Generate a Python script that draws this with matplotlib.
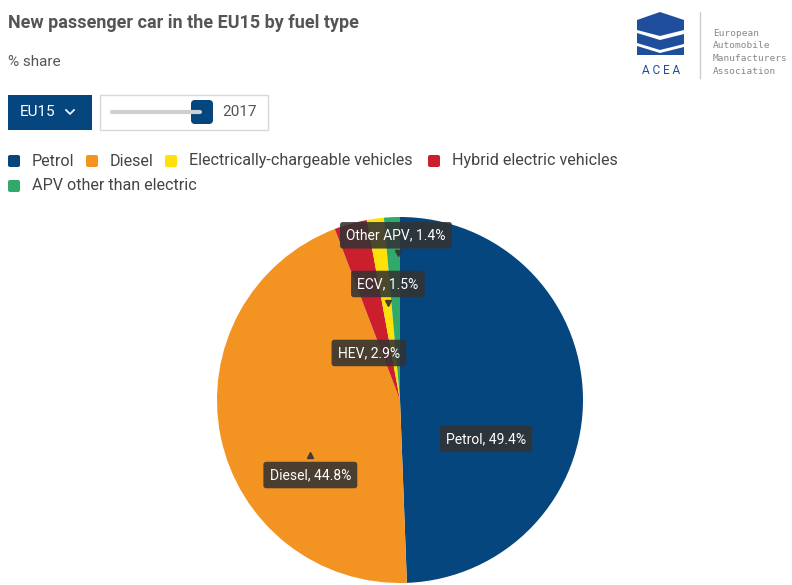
import matplotlib.pyplot as plt
from matplotlib.patches import Rectangle, FancyBboxPatch, Polygon

plt.rcParams['font.family'] = ['Roboto', 'DejaVu Sans']

# data
fuel_types = ["Petrol", "Diesel", "Hybrid electric vehicles", "Electrically-chargeable vehicles", "APV other than electric"]
short_names = ["Petrol", "Diesel", "HEV", "ECV", "Other APV"]
shares = [49.4, 44.8, 2.9, 1.5, 1.4]
colors = ["#05467f", "#f39322", "#cc1f2e", "#ffe10a", "#30a96b"]
legend_order = [0, 1, 3, 2, 4]
year = "2017"
region = "EU15"

W, H = 792, 585
fig = plt.figure(figsize=(W / 100, H / 100), dpi=100)
fig.patch.set_facecolor("white")

# overlay axes in pixel coordinates (y going down)
ui = fig.add_axes([0, 0, 1, 1])
ui.set_xlim(0, W)
ui.set_ylim(H, 0)
ui.axis("off")

ui.text(8, 23, "New passenger car in the EU15 by fuel type", fontsize=13, fontweight="bold",
        color="#555555", va="center")
ui.text(8, 62, "% share", fontsize=11, color="#555555", va="center")

# region dropdown
ui.add_patch(Rectangle((8, 95), 84, 35, facecolor="#05467f", edgecolor="none"))
ui.text(20, 112.5, region, color="white", fontsize=11, va="center")
ui.plot([66, 70, 74], [110, 114, 110], color="white", lw=1.2)

# year slider
ui.add_patch(Rectangle((100, 95), 168, 35, facecolor="white", edgecolor="#d8d8d8", lw=1))
ui.plot([112, 200], [112, 112], color="#cfcfcf", lw=3, solid_capstyle="round")
ui.add_patch(FancyBboxPatch((191, 100), 22, 24, boxstyle="round,pad=0,rounding_size=4",
                            facecolor="#05467f", edgecolor="none"))
ui.text(222, 112.5, year, color="#555555", fontsize=11, va="center")

# legend
legend_pos = [(8, 161), (86, 161), (165, 161), (428, 161), (8, 186)]
for (lx, ly), i in zip(legend_pos, legend_order):
    ui.add_patch(FancyBboxPatch((lx, ly - 6), 12, 12, boxstyle="round,pad=0,rounding_size=2",
                                facecolor=colors[i], edgecolor="none"))
    ui.text(lx + 24, ly, fuel_types[i], fontsize=11.6, color="#444444", va="center")

# ACEA logo
logo = "#1f4f9c"
ui.add_patch(Polygon([(637, 20), (660, 12), (684, 20), (684, 30), (660, 36), (637, 30)],
                     closed=True, facecolor=logo, edgecolor="none"))
ui.add_patch(Polygon([(637, 33), (660, 40), (684, 34), (684, 44), (660, 50), (637, 43)],
                     closed=True, facecolor=logo, edgecolor="none"))
ui.add_patch(Polygon([(637, 46), (660, 53), (684, 47), (684, 55), (637, 55)],
                     closed=True, facecolor=logo, edgecolor="none"))
ui.text(661, 70, "A C E A", fontsize=8.5, color="#1f4f9c", ha="center", va="center")
ui.plot([700, 700], [12, 78], color="#cccccc", lw=1)
for k, line in enumerate(["European", "Automobile", "Manufacturers", "Association"]):
    ui.text(713, 33 + k * 12.7, line, fontsize=6.8, color="#888888", va="center",
            family="DejaVu Sans Mono")

# pie
cx, cy, r = 400, 400, 183
pax = fig.add_axes([(cx - r) / W, (H - cy - r) / H, 2 * r / W, 2 * r / H])
pax.pie(shares, colors=colors, startangle=90, counterclock=False, radius=1,
        wedgeprops=dict(linewidth=0))
pax.set_xlim(-1, 1)
pax.set_ylim(-1, 1)
pax.set_aspect("equal")
pax.axis("off")

label_xy = [(0.47, -0.213), (-0.49, -0.41), (-0.17, 0.257), (-0.066, 0.634), (-0.022, 0.90)]
for name, val, (tx, ty) in zip(short_names, shares, label_xy):
    pax.text(tx, ty, f"{name}, {val}%", color="white", fontsize=10, ha="center", va="center",
             bbox=dict(boxstyle="round,pad=0.45,rounding_size=0.2", facecolor="#333333",
                       edgecolor="none", alpha=0.88), clip_on=False)

# tooltip pointers
pax.plot([-0.011, -0.066], [0.805, 0.532], marker="v", ls="none", color="#333333", ms=5, alpha=0.88)
pax.plot([-0.49], [-0.30], marker="^", ls="none", color="#333333", ms=5, alpha=0.88)

fig.savefig("out.png", dpi=100, facecolor="white")
